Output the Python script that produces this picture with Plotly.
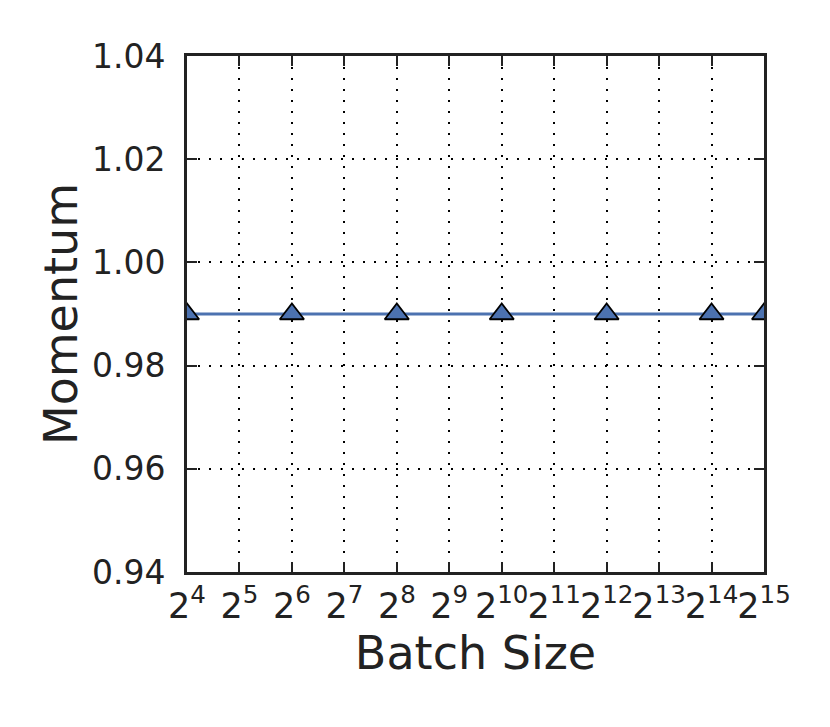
import plotly.graph_objects as go

# Batch sizes (powers of two) and the momentum used at each
batch_sizes = [16, 64, 256, 1024, 4096, 16384, 32768]
momentum = [0.99, 0.99, 0.99, 0.99, 0.99, 0.99, 0.99]

exponents = list(range(4, 16))
tick_vals = [2 ** e for e in exponents]
tick_text = [f"2<sup>{e}</sup>" for e in exponents]
y_ticks = [0.94, 0.96, 0.98, 1.00, 1.02, 1.04]

fig = go.Figure()

fig.add_trace(go.Scatter(
    x=batch_sizes,
    y=momentum,
    mode="lines+markers",
    line=dict(color="#4c72b0", width=3),
    marker=dict(symbol="triangle-up", size=21, color="#4c72b0",
                line=dict(color="black", width=1.8)),
    cliponaxis=True,
    showlegend=False,
))

axis_common = dict(
    showline=True, linecolor="#222222", linewidth=3, mirror="ticks",
    ticks="inside", ticklen=10, tickwidth=1.5, tickcolor="#222222",
    showgrid=True, gridcolor="black", gridwidth=1.5, griddash="2px,9px",
    zeroline=False,
)

fig.update_xaxes(
    type="log",
    range=[4 * 0.30103, 15 * 0.30103],
    tickvals=tick_vals, ticktext=tick_text, tickangle=0,
    tickfont=dict(family="DejaVu Sans", size=35, color="#222222"),
    title=dict(text="Batch Size", font=dict(family="DejaVu Sans", size=46, color="#222222"),
               standoff=10),
    ticklabelstandoff=1,
    **axis_common,
)

fig.update_yaxes(
    range=[0.94, 1.04],
    tickvals=y_ticks, ticktext=[f"{v:.2f}" for v in y_ticks],
    tickfont=dict(family="DejaVu Sans", size=33, color="#222222"),
    title=dict(text="Momentum", font=dict(family="DejaVu Sans", size=46, color="#222222"),
               standoff=0),
    ticklabelstandoff=12,
    **axis_common,
)

fig.update_layout(
    width=830, height=727,
    margin=dict(l=179, r=74, t=48, b=163),
    plot_bgcolor="white", paper_bgcolor="white",
)

fig.write_html("out.html")
